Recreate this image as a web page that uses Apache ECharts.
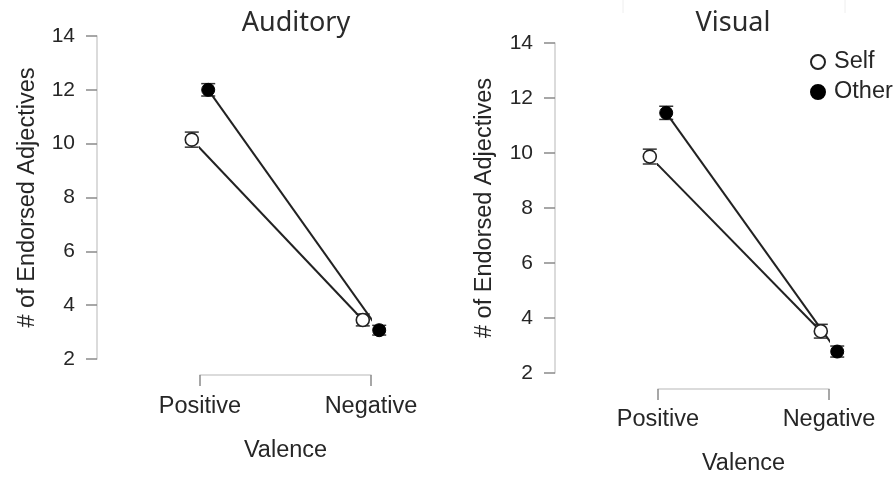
<!DOCTYPE html>
<html>
<head>
<meta charset="utf-8">
<script src="https://cdn.jsdelivr.net/npm/echarts@6/dist/echarts.min.js"></script>
<style>
html,body{margin:0;padding:0;background:#fff;}
#chart{width:896px;height:477px;}
</style>
</head>
<body>
<div id="chart"></div>
<script>
// ---- data ----
var categories = ['Positive', 'Negative'];
var panelTitles = ['Auditory', 'Visual'];
var seriesNames = ['Self', 'Other'];
var yTicks = [2, 4, 6, 8, 10, 12, 14];
var auditorySelf = [10.15, 3.45];
var auditoryOther = [12.0, 3.07];
var visualSelf = [9.87, 3.52];
var visualOther = [11.46, 2.78];
var auditorySelfErr = [0.28, 0.22];
var auditoryOtherErr = [0.23, 0.18];
var visualSelfErr = [0.27, 0.25];
var visualOtherErr = [0.24, 0.2];
var yAxisName = '# of Endorsed Adjectives';
var xAxisName = 'Valence';

// ---- layout / style ----
var DODGE = 0.048;
var FONT = "'Liberation Sans', Arial, sans-serif";
var TXT = '#262626';
var LBL = 23.5;
var panels = [
  {self: auditorySelf, other: auditoryOther, selfErr: auditorySelfErr, otherErr: auditoryOtherErr,
   grid: {left: 200, width: 171, top: 36, height: 323}, yOffset: 103, xOffset: 16,
   xMargin: 20, xNameGap: 64, yNameGap: 57, titleX: 291},
  {self: visualSelf, other: visualOther, selfErr: visualSelfErr, otherErr: visualOtherErr,
   grid: {left: 658, width: 171, top: 43, height: 330}, yOffset: 103, xOffset: 16,
   xMargin: 19, xNameGap: 63, yNameGap: 58, titleX: 728}
];

var chart = echarts.init(document.getElementById('chart'), null, {renderer: 'canvas'});

var grids = [], xAxes = [], yAxes = [], series = [], titles = [];

function pts(vals, sign) {
  return vals.map(function (v, i) { return [i + sign * DODGE, v]; });
}
function errData(vals, errs, sign) {
  return vals.map(function (v, i) { return [i + sign * DODGE, v, errs[i]]; });
}
function errRender(params, api) {
  var x = api.value(0), v = api.value(1), e = api.value(2);
  var lo = api.coord([x, v - e]);
  var hi = api.coord([x, v + e]);
  var hw = 7;
  var st = {stroke: '#333', lineWidth: 1.5};
  return {
    type: 'group',
    children: [
      {type: 'line', shape: {x1: lo[0], y1: lo[1], x2: hi[0], y2: hi[1]}, style: st},
      {type: 'line', shape: {x1: lo[0] - hw, y1: lo[1], x2: lo[0] + hw, y2: lo[1]}, style: st},
      {type: 'line', shape: {x1: hi[0] - hw, y1: hi[1], x2: hi[0] + hw, y2: hi[1]}, style: st}
    ]
  };
}

panels.forEach(function (p, k) {
  grids.push(Object.assign({containLabel: false, outerBoundsMode: 'none'}, p.grid));
  xAxes.push({
    gridIndex: k, type: 'value', min: 0, max: 1, interval: 1,
    position: 'bottom', offset: p.xOffset,
    axisLine: {show: true, onZero: false, lineStyle: {color: '#cfcfcf', width: 1.5}},
    axisTick: {show: true, length: 11, lineStyle: {color: '#8a8a8a', width: 1.5}},
    splitLine: {show: false},
    axisLabel: {
      margin: p.xMargin, fontSize: LBL, color: TXT, fontFamily: FONT,
      formatter: function (v) { return categories[Math.round(v)] || ''; }
    },
    name: xAxisName, nameLocation: 'middle', nameGap: p.xNameGap,
    nameTextStyle: {fontSize: LBL, color: TXT, fontFamily: FONT}
  });
  yAxes.push({
    gridIndex: k, type: 'value', min: yTicks[0], max: yTicks[yTicks.length - 1], interval: 2,
    position: 'left', offset: p.yOffset,
    axisLine: {show: true, onZero: false, lineStyle: {color: '#cfcfcf', width: 1.5}},
    axisTick: {show: true, length: 11, lineStyle: {color: '#8a8a8a', width: 1.5}},
    splitLine: {show: false},
    axisLabel: {margin: 22, fontSize: 21, color: TXT, fontFamily: FONT},
    name: yAxisName, nameLocation: 'middle', nameGap: p.yNameGap, nameRotate: 90,
    nameTextStyle: {fontSize: LBL, color: TXT, fontFamily: FONT}
  });
  titles.push({
    text: panelTitles[k], left: p.titleX, top: 5, textAlign: 'center',
    textStyle: {fontSize: 27, fontWeight: 'normal', color: '#2b2b2b', fontFamily: "'Noto Sans', 'Open Sans', sans-serif"}
  });
  // error bars (below markers)
  series.push({
    type: 'custom', name: 'Self err', xAxisIndex: k, yAxisIndex: k, clip: false, z: 2,
    renderItem: errRender, data: errData(p.self, p.selfErr, -1)
  });
  series.push({
    type: 'custom', name: 'Other err', xAxisIndex: k, yAxisIndex: k, clip: false, z: 2,
    renderItem: errRender, data: errData(p.other, p.otherErr, 1)
  });
  series.push({
    type: 'line', name: seriesNames[0], xAxisIndex: k, yAxisIndex: k, clip: false, z: 3,
    data: pts(p.self, -1), symbol: 'circle', symbolSize: 13, showAllSymbol: true,
    lineStyle: {color: '#222', width: 2},
    itemStyle: {color: '#fff', borderColor: '#222', borderWidth: 1.6},
    emphasis: {disabled: true}, animation: false
  });
  series.push({
    type: 'line', name: seriesNames[1], xAxisIndex: k, yAxisIndex: k, clip: false, z: 3,
    data: pts(p.other, 1), symbol: 'circle', symbolSize: 13, showAllSymbol: true,
    lineStyle: {color: '#222', width: 2},
    itemStyle: {color: '#000', borderColor: '#000', borderWidth: 1},
    emphasis: {disabled: true}, animation: false
  });
});

var option = {
  backgroundColor: '#fff',
  animation: false,
  title: titles,
  legend: {
    data: seriesNames, orient: 'vertical', left: 805, top: 45,
    itemWidth: 14, itemHeight: 14, itemGap: 6, icon: 'circle',
    textStyle: {fontSize: LBL, color: TXT, fontFamily: FONT, padding: [0, 0, 0, 4]}
  },
  grid: grids,
  xAxis: xAxes,
  yAxis: yAxes,
  series: series,
  graphic: [
    {type: 'line', shape: {x1: 623, y1: 0, x2: 623, y2: 13}, style: {stroke: '#eeeeee', lineWidth: 1}},
    {type: 'line', shape: {x1: 845, y1: 0, x2: 845, y2: 13}, style: {stroke: '#eeeeee', lineWidth: 1}}
  ]
};
chart.setOption(option);
</script>
</body>
</html>
